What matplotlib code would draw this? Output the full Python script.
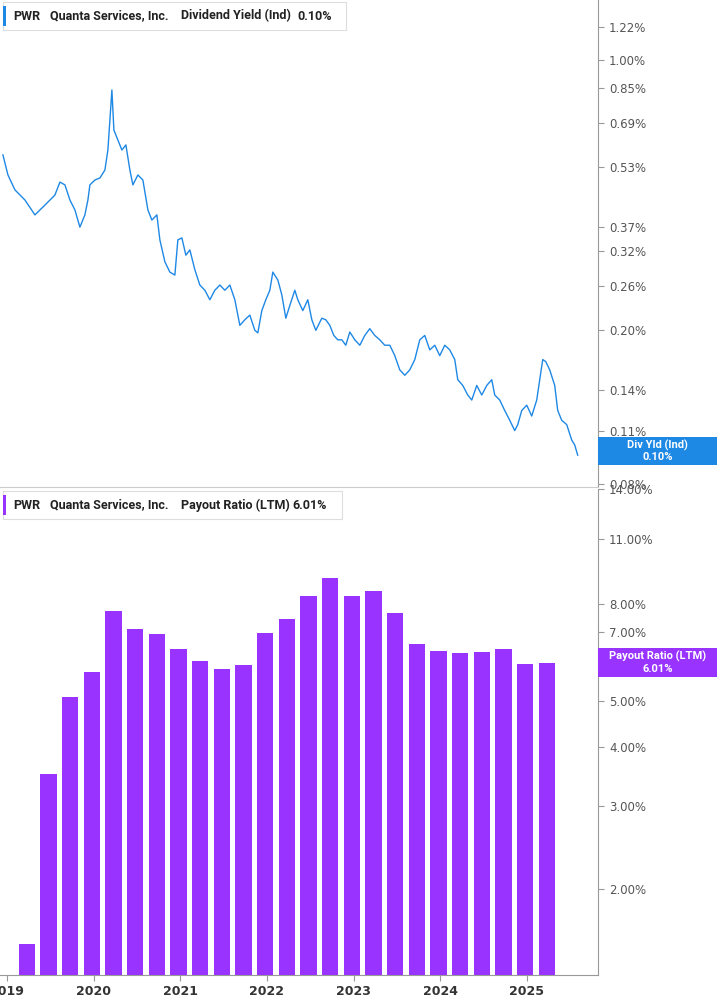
import matplotlib
matplotlib.use("Agg")
import matplotlib.pyplot as plt
from matplotlib.ticker import FixedLocator, NullLocator
from matplotlib.patches import Rectangle

# ---- data ----
yield_x_px = [3,8,15,25,35,45,55,60,65,70,75,80,85,88,90,95,100,105,108,110,112,114,118,122,126,130,133,138,143,148,152,157,160,165,170,175,178,182,186,190,195,200,205,210,215,220,225,230,235,240,245,250,255,258,262,266,270,273,278,282,286,290,295,298,303,308,312,316,322,326,330,334,338,342,346,350,355,360,365,370,375,380,385,390,395,400,405,410,415,420,425,430,435,440,445,450,455,458,463,468,472,477,482,487,492,495,500,505,510,515,518,522,527,532,537,540,543,546,550,555,558,562,567,572,575,578]
yield_dates = [2019 + (p - 7) / 86.7 for p in yield_x_px]
yield_vals = [0.569,0.505,0.462,0.435,0.398,0.422,0.448,0.484,0.476,0.435,0.410,0.370,0.398,0.435,0.476,0.490,0.496,0.520,0.586,0.700,0.838,0.660,0.622,0.586,0.604,0.520,0.476,0.505,0.490,0.410,0.386,0.398,0.343,0.301,0.283,0.278,0.343,0.347,0.313,0.323,0.287,0.262,0.254,0.240,0.254,0.262,0.254,0.262,0.240,0.206,0.213,0.219,0.200,0.197,0.225,0.240,0.254,0.283,0.270,0.247,0.215,0.232,0.254,0.240,0.225,0.240,0.213,0.200,0.215,0.213,0.206,0.194,0.189,0.189,0.183,0.198,0.189,0.183,0.194,0.202,0.194,0.189,0.183,0.183,0.172,0.158,0.153,0.158,0.168,0.189,0.194,0.178,0.183,0.172,0.183,0.178,0.168,0.149,0.144,0.136,0.132,0.144,0.136,0.144,0.149,0.136,0.132,0.124,0.117,0.110,0.114,0.124,0.128,0.120,0.132,0.149,0.168,0.166,0.158,0.144,0.124,0.117,0.114,0.104,0.101,0.095]

bar_dates = [2019.23 + 0.25 * i for i in range(25)]
payout_vals = [1.53,3.51,5.10,5.76,7.74,7.10,6.93,6.44,6.07,5.84,5.96,6.96,7.45,8.33,9.09,8.33,8.53,7.67,6.60,6.38,6.32,6.35,6.44,5.98,6.01]

yield_ticks = [1.22,1.00,0.85,0.69,0.53,0.37,0.32,0.26,0.20,0.14,0.11,0.08]
payout_ticks = [14.0,11.0,8.0,7.0,5.0,4.0,3.0,2.0]
years = [2019,2020,2021,2022,2023,2024,2025]

BLUE = "#1e88e5"
PURPLE = "#9933ff"
GRAY = "#555555"
FONT = "Roboto"

W, H = 717, 1005
fig = plt.figure(figsize=(W/100, H/100), dpi=100)
R = 598 / W
ax1 = fig.add_axes([0, 1 - 487/H, R, 487/H])
ax2 = fig.add_axes([0, 1 - 975/H, R, 486/H])

for ax in (ax1, ax2):
    ax.set_yscale("log")
    ax.set_xlim(2018.92, 2025.82)
    ax.yaxis.tick_right()
    for s in ("left", "top"):
        ax.spines[s].set_visible(False)
    ax.spines["right"].set_color("#999999")
    ax.spines["bottom"].set_color("#999999")
    ax.yaxis.set_minor_locator(NullLocator())
    ax.tick_params(axis="y", which="major", colors="#999999", labelcolor=GRAY,
                   labelsize=8.5, length=4, pad=4)

ax1.plot(yield_dates, yield_vals, color=BLUE, lw=1.0)
ax1.set_ylim(0.0786, 1.433)
ax1.yaxis.set_major_locator(FixedLocator(yield_ticks))
ax1.set_yticklabels([f"{v:.2f}%" for v in yield_ticks])
ax1.set_xticks([])
ax1.spines["bottom"].set_color("#cccccc")

ax2.bar(bar_dates, payout_vals, width=0.19, color=PURPLE)
ax2.set_ylim(1.317, 14.01)
ax2.yaxis.set_major_locator(FixedLocator(payout_ticks))
ax2.set_yticklabels([f"{v:.2f}%" for v in payout_ticks])
ax2.set_xticks(years)
ax2.set_xticklabels([str(y) for y in years])
ax2.tick_params(axis="x", colors="#999999", labelcolor="#333333", labelsize=9, length=4)
for lab in ax2.get_xticklabels():
    lab.set_fontweight("bold")

# headers
def header(y_px, color, w, parts):
    fig.patches.append(Rectangle((3/W, 1 - (y_px+14)/H), w/W, 28/H, transform=fig.transFigure,
                                 facecolor="white", edgecolor="#dddddd", lw=0.8))
    fig.patches.append(Rectangle((3/W, 1 - (y_px+10)/H), 3/W, 20/H, transform=fig.transFigure,
                                 facecolor=color, edgecolor="none"))
    for txt, x in parts:
        fig.text(x/W, 1 - y_px/H, txt, fontsize=9, fontweight="bold", family=FONT,
                 color="#222222", va="center")

header(16, BLUE, 343, [("PWR", 13), ("Quanta Services, Inc.", 50), ("Dividend Yield (Ind)", 181), ("0.10%", 297)])
header(505, PURPLE, 339, [("PWR", 13), ("Quanta Services, Inc.", 50), ("Payout Ratio (LTM)", 181), ("6.01%", 292)])

# value boxes
def vbox(y0, y1, color, l1, l2):
    fig.patches.append(Rectangle((R, 1 - y1/H), 1 - R, (y1-y0)/H, transform=fig.transFigure,
                                 facecolor=color, edgecolor="none"))
    cx = (R + 1) / 2
    fig.text(cx, 1 - (y0 + 8)/H, l1, color="white", fontsize=8, fontweight="bold", family=FONT, ha="center", va="center")
    fig.text(cx, 1 - (y1 - 8)/H, l2, color="white", fontsize=8, fontweight="bold", family=FONT, ha="center", va="center")

vbox(437, 465, BLUE, "Div Yld (Ind)", "0.10%")
vbox(648, 677, PURPLE, "Payout Ratio (LTM)", "6.01%")

fig.savefig("out.png", dpi=100)
